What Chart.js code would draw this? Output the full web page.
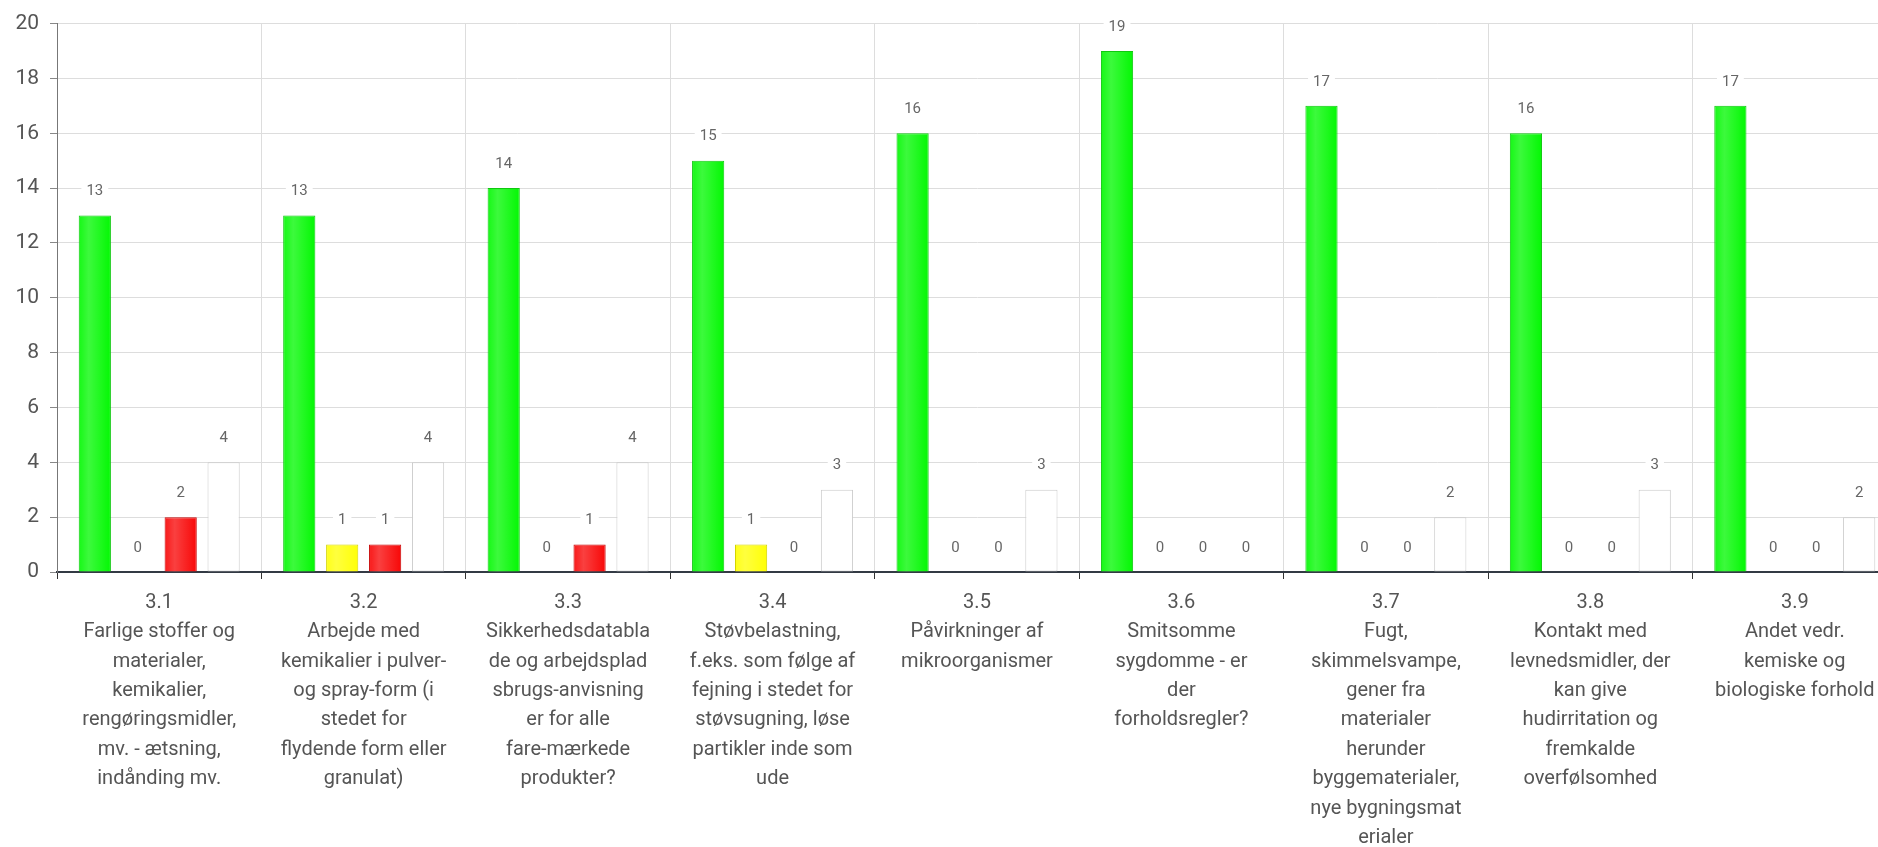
<!DOCTYPE html>
<html>
<head>
<meta charset="utf-8">
<script src="https://cdn.jsdelivr.net/npm/chart.js@4.4.1/dist/chart.umd.min.js"></script>
<style>
  html, body { margin: 0; padding: 0; background: #fff; overflow: hidden; }
  #wrap { width: 1897px; height: 847px; }
</style>
</head>
<body>
<div id="wrap"><canvas id="myChart" width="1897" height="847"></canvas></div>
<script>
const categories = [
    ['3.1', 'Farlige stoffer og', 'materialer,', 'kemikalier,', 'rengøringsmidler,', 'mv. - ætsning,', 'indånding mv.'],
    ['3.2', 'Arbejde med', 'kemikalier i pulver-', 'og spray-form (i', 'stedet for', 'flydende form eller', 'granulat)'],
    ['3.3', 'Sikkerhedsdatabla', 'de og arbejdsplad', 'sbrugs-anvisning', 'er for alle', 'fare-mærkede', 'produkter?'],
    ['3.4', 'Støvbelastning,', 'f.eks. som følge af', 'fejning i stedet for', 'støvsugning, løse', 'partikler inde som', 'ude'],
    ['3.5', 'Påvirkninger af', 'mikroorganismer'],
    ['3.6', 'Smitsomme', 'sygdomme - er', 'der', 'forholdsregler?'],
    ['3.7', 'Fugt,', 'skimmelsvampe,', 'gener fra', 'materialer', 'herunder', 'byggematerialer,', 'nye bygningsmat', 'erialer'],
    ['3.8', 'Kontakt med', 'levnedsmidler, der', 'kan give', 'hudirritation og', 'fremkalde', 'overfølsomhed'],
    ['3.9', 'Andet vedr.', 'kemiske og', 'biologiske forhold']
];
const greenValues  = [13, 13, 14, 15, 16, 19, 17, 16, 17];
const yellowValues = [0, 1, 0, 1, 0, 0, 0, 0, 0];
const redValues    = [2, 1, 1, 0, 0, 0, 0, 0, 0];
const whiteValues  = [4, 4, 4, 3, 3, 0, 2, 3, 2];
const yTicks = [0, 2, 4, 6, 8, 10, 12, 14, 16, 18, 20];

const FONT = 'Roboto, "Open Sans", sans-serif';

// bar shine + value labels with white box
const barExtras = {
    id: 'barExtras',
    afterDatasetsDraw(chart) {
        const ctx = chart.ctx;
        ctx.save();
        for (let i = 0; i < 3; i++) {
            chart.getDatasetMeta(i).data.forEach(bar => {
                const h = bar.base - bar.y;
                if (h <= 1) return;
                const x0 = bar.x - bar.width / 2 + 1, x1 = bar.x + bar.width / 2 - 1;
                const g = ctx.createLinearGradient(x0, 0, x1, 0);
                g.addColorStop(0, 'rgba(255,255,255,0.08)');
                g.addColorStop(0.3, 'rgba(255,255,255,0.22)');
                g.addColorStop(1, 'rgba(255,255,255,0)');
                ctx.fillStyle = g;
                ctx.fillRect(x0, bar.y + 1, x1 - x0, h - 1);
            });
        }
        ctx.font = '15px ' + FONT;
        ctx.textAlign = 'center';
        ctx.textBaseline = 'middle';
        chart.data.datasets.forEach((ds, i) => {
            chart.getDatasetMeta(i).data.forEach((bar, j) => {
                const txt = String(ds.data[j]);
                const w = ctx.measureText(txt).width + 10;
                const y = bar.y - 24;
                ctx.fillStyle = '#fff';
                ctx.fillRect(bar.x - w / 2, y - 9, w, 18);
                ctx.fillStyle = '#666';
                ctx.fillText(txt, bar.x, y);
            });
        });
        ctx.restore();
    }
};

const ctx = document.getElementById('myChart').getContext('2d');
const myChart = new Chart(ctx, {
    type: 'bar',
    data: {
        labels: categories,
        datasets: [{
            data: greenValues,
            backgroundColor: '#06f806',
            borderColor: '#10c810',
            borderWidth: 1
        },
        {
            data: yellowValues,
            backgroundColor: '#ffff08',
            borderColor: '#d4d400',
            borderWidth: 1
        },
        {
            data: redValues,
            backgroundColor: '#f80a0a',
            borderColor: '#c80808',
            borderWidth: 1
        },
        {
            data: whiteValues,
            backgroundColor: '#ffffff',
            borderColor: '#cccccc',
            borderWidth: 1,
            borderSkipped: false
        }]
    },
    options: {
        responsive: false,
        animation: false,
        categoryPercentage: 0.84,
        barPercentage: 0.75,
        layout: { padding: { top: 15.4, left: 0, right: 0, bottom: 0 } },
        scales: {
            x: {
                grid: {
                    offset: true,
                    color: '#dddddd',
                    tickColor: '#333',
                    tickLength: 7
                },
                border: { color: '#333a44', width: 2 },
                ticks: {
                    autoSkip: false,
                    maxRotation: 0,
                    minRotation: 0,
                    padding: 9,
                    color: '#555',
                    font: { family: FONT, size: 20, lineHeight: 1.47 }
                },
                afterFit: scale => { scale.height = 847 - 572; }
            },
            y: {
                min: 0,
                max: 20,
                afterBuildTicks: scale => { scale.ticks = yTicks.map(v => ({ value: v })); },
                grid: {
                    color: '#dddddd',
                    tickColor: '#888',
                    tickLength: 7
                },
                border: { color: '#777', width: 1 },
                ticks: {
                    padding: 11,
                    color: '#555',
                    font: { family: FONT, size: 21 }
                },
                afterFit: scale => { scale.width = 57; }
            }
        },
        plugins: {
            legend: { display: false },
            tooltip: { enabled: false }
        }
    },
    plugins: [barExtras]
});
</script>
</body>
</html>
